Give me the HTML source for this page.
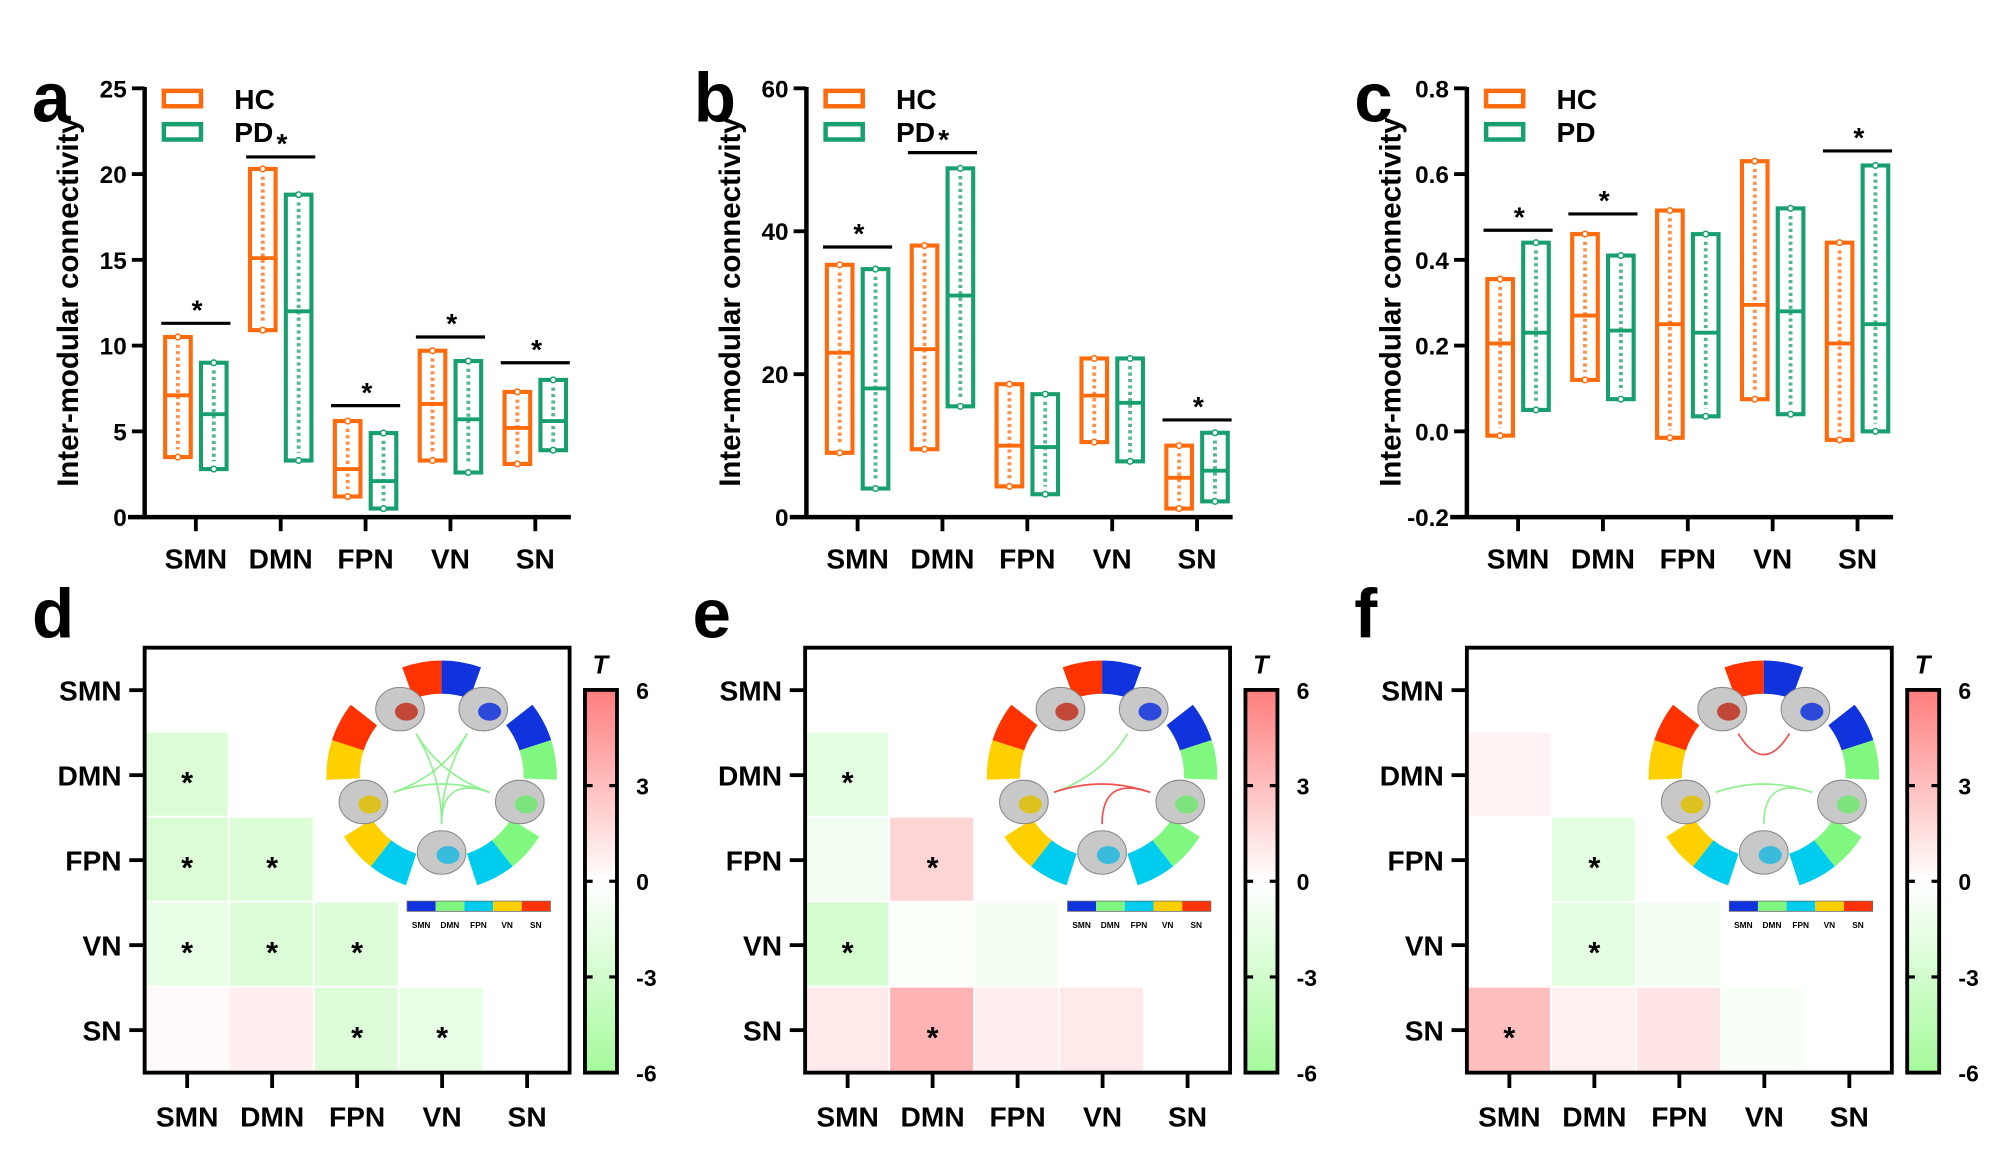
<!DOCTYPE html>
<html><head><meta charset="utf-8"><style>
html,body{margin:0;padding:0;background:#fff}
svg{display:block;font-family:"Liberation Sans",Arial,sans-serif;font-weight:bold}
</style></head><body>
<svg id="fig" xmlns="http://www.w3.org/2000/svg" width="2000" height="1158" viewBox="0 0 1562.5 904.7">
<defs>
<linearGradient id="cbg" x1="0" y1="0" x2="0" y2="1">
<stop offset="0" stop-color="rgb(255,125,125)"/><stop offset="0.5" stop-color="#ffffff"/><stop offset="1" stop-color="rgb(165,250,155)"/>
</linearGradient>
</defs>
<g id="root"></g>
</svg>
<script>
// ---------- Box chart data ----------
const categories = ["SMN","DMN","FPN","VN","SN"];
// panel a
const aHC = [[3.5,10.5,7.1],[10.9,20.3,15.1],[1.2,5.6,2.8],[3.3,9.7,6.6],[3.1,7.3,5.2]];
const aPD = [[2.8,9.0,6.0],[3.3,18.8,12.0],[0.5,4.9,2.1],[2.6,9.1,5.7],[3.9,8.0,5.6]];
const aSig = [11.3,21.0,6.5,10.5,9.0];
const aTicks = [0,5,10,15,20,25];
// panel b
const bHC = [[9.0,35.3,23.0],[9.5,38.0,23.5],[4.3,18.6,10.0],[10.5,22.2,17.0],[1.2,10.0,5.5]];
const bPD = [[4.0,34.7,18.0],[15.5,48.8,31.0],[3.2,17.2,9.8],[7.8,22.2,16.0],[2.2,11.8,6.5]];
const bSig = [37.8,51.0,null,null,13.6];
const bTicks = [0,20,40,60];
// panel c
const cHC = [[-0.01,0.355,0.205],[0.12,0.46,0.27],[-0.015,0.515,0.25],[0.075,0.63,0.295],[-0.02,0.44,0.205]];
const cPD = [[0.05,0.44,0.23],[0.075,0.41,0.235],[0.035,0.46,0.23],[0.04,0.52,0.28],[0.0,0.62,0.25]];
const cSig = [0.469,0.507,null,null,0.654];
const cTickLabels = ["-0.2","0.0","0.2","0.4","0.6","0.8"];
const cTicks = [-0.2,0,0.2,0.4,0.6,0.8];
// ---------- Heatmap data (T values, lower triangle: [row, col, T, sig]) ----------
const dCells = [[1,0,-2.5,1],[2,0,-2.5,1],[2,1,-2.3,1],[3,0,-1.5,1],[3,1,-2.5,1],[3,2,-2.3,1],[4,0,0.3,0],[4,1,0.8,0],[4,2,-2.3,1],[4,3,-1.5,1]];
const eCells = [[1,0,-1.8,1],[2,0,-0.8,0],[2,1,2.0,1],[3,0,-2.8,1],[3,1,-0.3,0],[3,2,-0.7,0],[4,0,1.0,0],[4,1,3.5,1],[4,2,0.8,0],[4,3,1.0,0]];
const fCells = [[1,0,0.6,0],[2,0,0,0],[2,1,-1.8,1],[3,0,0,0],[3,1,-1.8,1],[3,2,-0.8,0],[4,0,3.0,1],[4,1,0.7,0],[4,2,1.2,0],[4,3,-0.5,0]];
const cbTicks = [6,3,0,-3,-6];

const NS="http://www.w3.org/2000/svg";
const root=document.getElementById('root');
function mk(tag,attrs,parent,text){const e=document.createElementNS(NS,tag);for(const k in attrs)e.setAttribute(k,attrs[k]);if(text!==undefined)e.textContent=text;(parent||root).appendChild(e);return e;}
const OR="#ff6a0a", GR="#17a06e";

function boxPanel(id,letter,ox,cats,hc,pd,sig,ticks,tickLabels,vmin,vmax){
  const g=mk('g',{});
  
  
  const top=69,bot=404;
  const y=v=>bot-(v-vmin)/(vmax-vmin)*(bot-top);
  const x=i=>ox+40+i*66.3;
  const lt=mk('text',{x:ox-88,y:95,'font-size':54},g,letter);
  
  
  const yl=mk('text',{transform:`translate(${ox-52},236) rotate(-90)`,'text-anchor':'middle','font-size':23},g,'Inter-modular connectivity');
  
  
  mk('line',{x1:ox,y1:top-1,x2:ox,y2:bot,stroke:'#000','stroke-width':3.5},g);
  mk('line',{x1:ox-13,y1:bot,x2:ox+333,y2:bot,stroke:'#000','stroke-width':3.5},g);
  ticks.forEach((t,i)=>{
    mk('line',{x1:ox-10,y1:y(t),x2:ox,y2:y(t),stroke:'#000','stroke-width':3},g);
    const tl=mk('text',{x:ox-14,y:y(t)+7,'text-anchor':'end','font-size':19},g,tickLabels[i]);
    
    
  });
  cats.forEach((c,i)=>{
    mk('line',{x1:x(i),y1:bot,x2:x(i),y2:bot+11,stroke:'#000','stroke-width':3},g);
    const cl=mk('text',{x:x(i),y:bot+40,'text-anchor':'middle','font-size':22},g,c);
    
    
    [[hc[i],OR,-14,'hc'],[pd[i],GR,14,'pd']].forEach(([d,col,off,nm])=>{
      const cx=x(i)+off;
      const b=mk('rect',{x:cx-10,y:y(d[1]),width:20,height:y(d[0])-y(d[1]),fill:'none',stroke:col,'stroke-width':3.2},g);
      
      
      mk('line',{x1:cx,y1:y(d[1])+6,x2:cx,y2:y(d[0])-6,stroke:col,'stroke-width':3,'stroke-dasharray':'2.5 2.5','opacity':0.75},g);
      mk('circle',{cx:cx,cy:y(d[1]),r:2.2,fill:'#fff',stroke:col,'stroke-width':1.2},g);
      mk('circle',{cx:cx,cy:y(d[0]),r:2.2,fill:'#fff',stroke:col,'stroke-width':1.2},g);
      const m=mk('line',{x1:cx-11,y1:y(d[2]),x2:cx+11,y2:y(d[2]),stroke:col,'stroke-width':3},g);
      
      
    });
    if(sig[i]!==null){
      const sy=y(sig[i]);
      mk('line',{x1:x(i)-27,y1:sy,x2:x(i)+27,y2:sy,stroke:'#000','stroke-width':2.5},g);
      const st=mk('text',{x:x(i)+1,y:sy-3,'text-anchor':'middle','font-size':22},g,'*');
      
      
    }
  });
  [['HC',OR,77],['PD',GR,103]].forEach(([n,col,ly])=>{
    const s=mk('rect',{x:ox+15,y:ly-6,width:29,height:12,fill:'none',stroke:col,'stroke-width':3.5},g);
    
    
    const t=mk('text',{x:ox+70,y:ly+8,'font-size':22},g,n);
    
    
  });
}
boxPanel('a','a',113,categories,aHC,aPD,aSig,aTicks,aTicks.map(String),0,25);
boxPanel('b','b',630,categories,bHC,bPD,bSig,bTicks,bTicks.map(String),0,60);
boxPanel('c','c',1146,categories,cHC,cPD,cSig,cTicks,cTickLabels,-0.2,0.8);

function tColor(t){
  const f=Math.min(1,Math.abs(t)/6);
  const end=t>=0?[255,125,125]:[165,250,155];
  const c=end.map(e=>Math.round(255+(e-255)*f));
  return `rgb(${c[0]},${c[1]},${c[2]})`;
}
function arcPath(cx,cy,r1,r2,a0,a1){
  const p=(r,a)=>[cx+r*Math.cos(a*Math.PI/180),cy-r*Math.sin(a*Math.PI/180)];
  const A=p(r2,a0),B=p(r2,a1),C=p(r1,a1),D=p(r1,a0);
  return `M${A[0]},${A[1]} A${r2},${r2} 0 0 0 ${B[0]},${B[1]} L${C[0]},${C[1]} A${r1},${r1} 0 0 1 ${D[0]},${D[1]} Z`;
}
function inset(g,cx,cy,lines){
  const ig=mk('g',{},g);
  
  
  const segs=[[90,'#ff3300','#1133dd'],[18,'#1133dd','#80f880'],[-52,'#80f880','#00ccee'],[-128,'#00ccee','#ffd000'],[162,'#ffd000','#ff3300']];
  segs.forEach(([a,c1,c2])=>{
    mk('path',{d:arcPath(cx,cy,64,90,a,a+20),fill:c1},ig);
    mk('path',{d:arcPath(cx,cy,64,90,a-20,a),fill:c2},ig);
  });
  const brains=[[120,'#c03020'],[60,'#1133dd'],[200,'#e0c000'],[-20,'#70e870'],[270,'#20b8e0']];
  const nodes=[];
  brains.forEach(([a,col])=>{
    const bx=cx+65*Math.cos(a*Math.PI/180), by=cy-60*Math.sin(a*Math.PI/180);
    mk('ellipse',{cx:bx,cy:by,rx:19,ry:17,fill:'#c8c8c8',stroke:'#888','stroke-width':0.8},ig);
    mk('ellipse',{cx:bx+5,cy:by+2,rx:9,ry:7,fill:col,opacity:0.85},ig);
    nodes.push([cx+40*Math.cos(a*Math.PI/180),cy-38*Math.sin(a*Math.PI/180)]);
  });
  lines.forEach(([i,j,col])=>{
    const A=nodes[i],B=nodes[j];
    mk('path',{d:`M${A[0]},${A[1]} Q${cx},${cy} ${B[0]},${B[1]}`,fill:'none',stroke:col,'stroke-width':1.3},ig);
  });
  const lc=['#1133dd','#80f880','#00ccee','#ffd000','#ff3300'];
  lc.forEach((c,i)=>{
    mk('rect',{x:cx-27+i*22.4,y:cy+98,width:22.4,height:8,fill:c},ig);
    const t=mk('text',{x:cx-16+i*22.4,y:cy+119,'text-anchor':'middle','font-size':6.5},ig,categories[i]);
    
    
  });
  mk('rect',{x:cx-27,y:cy+98,width:112,height:8,fill:'none',stroke:'#666','stroke-width':0.6},ig);
}
function heatPanel(id,ox,cells,lines){
  const g=mk('g',{});
  
  
  const top=506,sz=332,cs=sz/5;
  const lt=mk('text',{x:ox-88,y:498,'font-size':54},g,id);
  
  
  cells.forEach(([r,c,t,s])=>{
    const rc=mk('rect',{x:ox+c*cs,y:top+r*cs,width:cs-1.5,height:cs-1.5,fill:tColor(t)},g);
    
    
    if(s){const st=mk('text',{x:ox+c*cs+cs/2,y:top+r*cs+cs/2+14,'text-anchor':'middle','font-size':24},g,'*');
      
      }
  });
  inset(g,ox+232,top+100,lines);
  mk('rect',{x:ox,y:top,width:sz,height:sz,fill:'none',stroke:'#000','stroke-width':3},g);
  categories.forEach((c,i)=>{
    const p=i*cs+cs/2;
    mk('line',{x1:ox-12,y1:top+p,x2:ox,y2:top+p,stroke:'#000','stroke-width':3},g);
    const rl=mk('text',{x:ox-18,y:top+p+8,'text-anchor':'end','font-size':22},g,c);
    
    
    mk('line',{x1:ox+p,y1:top+sz,x2:ox+p,y2:top+sz+12,stroke:'#000','stroke-width':3},g);
    const cl=mk('text',{x:ox+p,y:top+sz+42,'text-anchor':'middle','font-size':22},g,c);
    
    
  });
  const bx=ox+344,by=539,bh=299;
  const cb=mk('rect',{x:bx,y:by,width:25,height:bh,fill:'url(#cbg)',stroke:'#000','stroke-width':3},g);
  
  
  const tt=mk('text',{x:bx+12,y:by-13,'text-anchor':'middle','font-size':20,'font-style':'italic'},g,'T');
  
  
  cbTicks.forEach(t=>{
    const yy=by+(6-t)/12*bh;
    if(Math.abs(t)<6){
      mk('line',{x1:bx,y1:yy,x2:bx+6,y2:yy,stroke:'#000','stroke-width':2.5},g);
      mk('line',{x1:bx+19,y1:yy,x2:bx+25,y2:yy,stroke:'#000','stroke-width':2.5},g);
    }
    const tl=mk('text',{x:bx+40,y:yy+7,'font-size':18},g,String(t));
    
    
  });
}
const LG='#90f090', LR='#f05050';
heatPanel('d',113,dCells,[[0,3,LG],[0,4,LG],[1,2,LG],[1,4,LG],[2,3,LG],[3,4,LG]]);
heatPanel('e',629,eCells,[[1,2,LG],[2,3,LR],[3,4,LR]]);
heatPanel('f',1146,fCells,[[0,1,LR],[3,2,LG],[3,4,LG]]);
</script>
</body></html>
